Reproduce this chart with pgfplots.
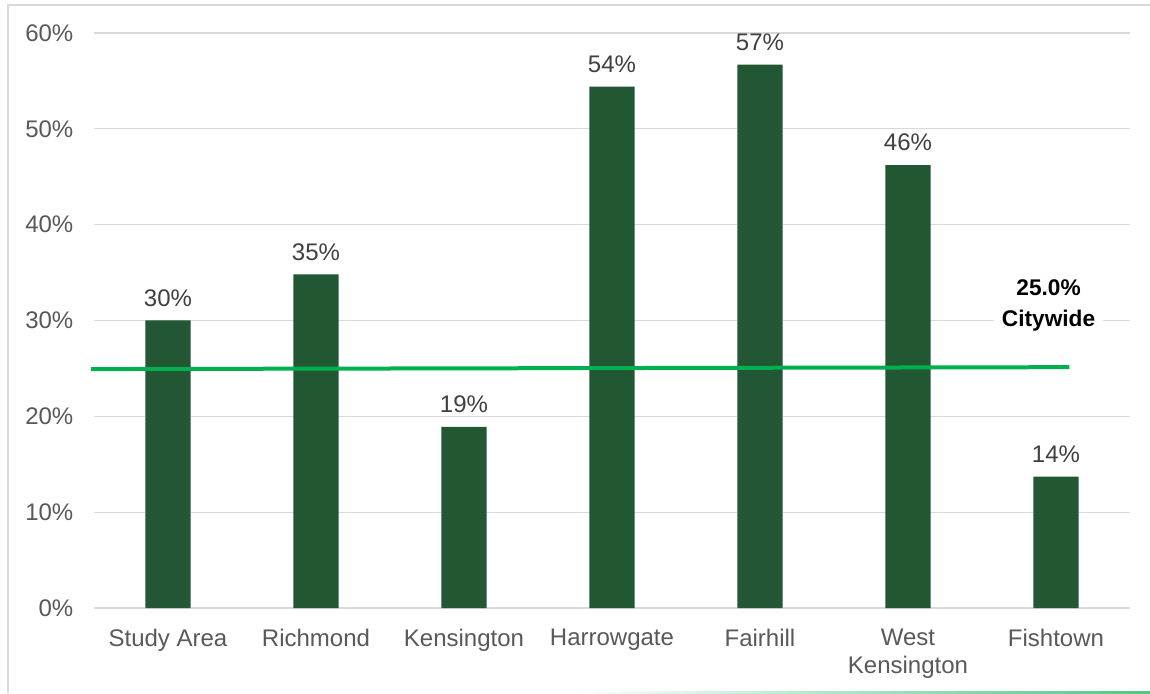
\documentclass[border=0pt]{standalone}
\usepackage{pgfplots}
\pgfplotsset{compat=1.18}
\usepackage{pgfplotstable}
\usepackage{fontspec}
\setmainfont{Liberation Sans}
\definecolor{barg}{HTML}{215732}
\definecolor{lineg}{HTML}{00B050}
\definecolor{gridc}{HTML}{D9D9D9}
\definecolor{tickc}{HTML}{595959}
\definecolor{labc}{HTML}{404040}
\pgfplotstableread{
x y lab
0 30.0 30\%
1 34.8 35\%
2 18.9 19\%
3 54.4 54\%
4 56.7 57\%
5 46.2 46\%
6 13.7 14\%
}\bars
\begin{document}
\begin{tikzpicture}
\path[use as bounding box, fill=white] (-70.5pt,-63.75pt) rectangle (792pt,456pt);
\draw[gridc, line width=1.5pt] (-64.5pt,-63.75pt) -- (-64.5pt,452.5pt) -- (792pt,452.5pt);
\begin{axis}[
  at={(0,0)}, anchor=south west,
  scale only axis, width=777pt, height=431.25pt,
  xmin=-0.5, xmax=6.5, ymin=0, ymax=60,
  axis line style={draw=none},
  ytick={0,10,...,60},
  yticklabel={\pgfmathprintnumber{\tick}\%},
  ymajorgrids, grid style={gridc, line width=1pt},
  major tick length=0pt,
  xtick={0,...,6},
  xticklabels={Study Area,Richmond,Kensington,Harrowgate,Fairhill,{West\\Kensington},Fishtown},
  xticklabel style={align=center, text=tickc, font=\fontsize{18}{21}\selectfont, yshift=-12pt},
  yticklabel style={text=tickc, font=\fontsize{18}{20}\selectfont, xshift=-12pt},
  /pgf/number format/assume math mode=true,
  clip=false,
]
\addplot[ybar, bar width=34pt, fill=barg, draw=none,
  nodes near coords, point meta=explicit symbolic,
  every node near coord/.append style={text=labc, font=\fontsize{18}{20}\selectfont, yshift=7pt}]
  table[x=x, y=y, meta=lab]{\bars};
\addplot[lineg, line width=3pt] coordinates {(-0.52,24.93) (6.09,25.13)};
\node[fill=white, align=center, font=\bfseries\fontsize{17}{23}\selectfont, inner xsep=6pt, inner ysep=3pt] at (axis cs:5.95,31.6) {25.0\%\\Citywide};
\end{axis}
\shade[left color=white, right color=lineg!70] (360pt,-63.75pt) rectangle (792pt,-62.5pt);
\end{tikzpicture}
\end{document}
